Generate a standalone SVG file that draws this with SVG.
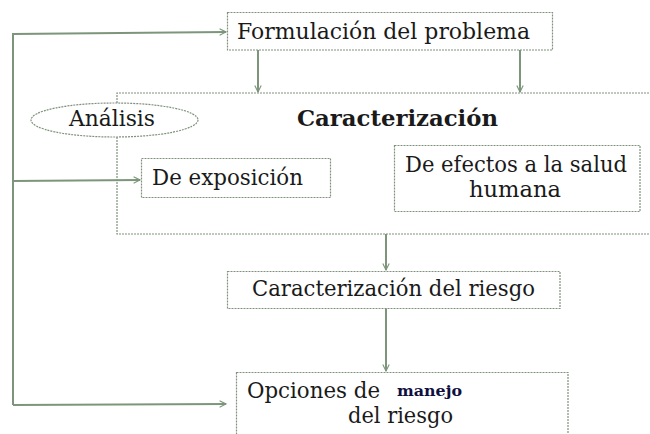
<svg xmlns="http://www.w3.org/2000/svg" width="650" height="434" viewBox="0 0 650 434">
<defs>
<marker id="arr" viewBox="0 0 10 10" refX="9" refY="5" markerWidth="8" markerHeight="8" markerUnits="userSpaceOnUse" orient="auto">
<path d="M1,1 L9,5 L1,9" fill="none" stroke="#7d967b" stroke-width="1.4"/>
</marker>
<style>
.box{fill:#fff;stroke:#7f927c;stroke-width:1.2;stroke-dasharray:2 1}
.line{fill:none;stroke:#7d967b;stroke-width:2}
text{font-size:22px;fill:#1a1a1a}
.b{font-weight:bold}
</style>
</defs>
<rect width="650" height="434" fill="#fff"/>
<g font-family="DejaVu Serif, Liberation Serif, serif">
<g id="caracterizacion">
<path class="box" d="M117,103 L117,93 L652,93 M117,137 L117,234 L652,234"/>
<text class="b" x="297" y="126" textLength="201" lengthAdjust="spacingAndGlyphs">Caracterización</text>
</g>
<g id="connectors">
<path class="line" d="M13,405 L13,34 L226,32" marker-end="url(#arr)"/>
<path class="line" d="M13,181 L140,180" marker-end="url(#arr)"/>
<path class="line" d="M13,405 L226,404" marker-end="url(#arr)"/>
<path class="line" d="M258,50 L258,92" marker-end="url(#arr)"/>
<path class="line" d="M520,50 L520,92" marker-end="url(#arr)"/>
<path class="line" d="M386,234 L386,270" marker-end="url(#arr)"/>
<path class="line" d="M386,308 L386,371" marker-end="url(#arr)"/>
</g>
<g id="formulacion">
<rect class="box" x="227.5" y="12.5" width="325" height="37.5"/>
<text x="237" y="39" textLength="293" lengthAdjust="spacingAndGlyphs">Formulación del problema</text>
</g>
<g id="analisis">
<ellipse class="box" cx="114.5" cy="120" rx="83.5" ry="17"/>
<text x="69" y="126" textLength="86" lengthAdjust="spacingAndGlyphs">Análisis</text>
</g>
<g id="exposicion">
<rect class="box" x="141.5" y="158.5" width="189" height="39"/>
<text x="152" y="185" textLength="151" lengthAdjust="spacingAndGlyphs">De exposición</text>
</g>
<g id="efectos">
<rect class="box" x="394.5" y="145.5" width="245.5" height="66"/>
<text x="405" y="172" textLength="222" lengthAdjust="spacingAndGlyphs">De efectos a la salud</text>
<text x="469" y="197" textLength="92" lengthAdjust="spacingAndGlyphs">humana</text>
</g>
<g id="riesgo">
<rect class="box" x="227.5" y="271.5" width="332.5" height="37"/>
<text x="252" y="296" textLength="283" lengthAdjust="spacingAndGlyphs">Caracterización del riesgo</text>
</g>
<g id="opciones">
<rect class="box" x="236.5" y="372.5" width="331.5" height="70"/>
<text x="247" y="398" textLength="133" lengthAdjust="spacingAndGlyphs">Opciones de</text>
<text class="b" x="397" y="396" style="font-size:15px;fill:#101040" textLength="65" lengthAdjust="spacingAndGlyphs">manejo</text>
<text x="348" y="423" textLength="105" lengthAdjust="spacingAndGlyphs">del riesgo</text>
</g>
</g>
</svg>
